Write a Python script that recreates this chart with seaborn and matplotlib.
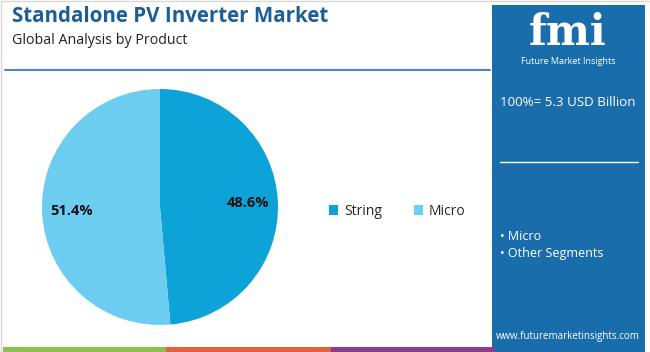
import matplotlib
matplotlib.use("Agg")
import matplotlib.pyplot as plt
import seaborn as sns
from matplotlib.patches import Rectangle

# data
products = ["String", "Micro"]
shares = [48.6, 51.4]
colors = ["#0ea3d8", "#6dcdf0"]
title = "Standalone PV Inverter Market"
subtitle = "Global Analysis by Product"
total_text = "100%= 5.3 USD Billion"
segments = ["Micro", "Other Segments"]

sns.set_theme(style="white")
plt.rcParams["font.family"] = ["Open Sans", "DejaVu Sans"]

W, H = 650, 352
fig = plt.figure(figsize=(6.5, 3.52), dpi=100)
fig.patch.set_facecolor("white")


def px(x, y):
    return x / W, 1 - y / H


# background decorations
bg = fig.add_axes([0, 0, 1, 1])
bg.set_xlim(0, W)
bg.set_ylim(H, 0)
bg.axis("off")
bg.add_patch(Rectangle((0.5, 0.5), W - 1, H - 1, fill=False, ec="#d8d8d8", lw=1))
bg.plot([5, 490], [70, 70], color="#4f86bd", lw=1.5)
bg.add_patch(Rectangle((492, 5), 153, 347, color="#1a6dab", lw=0))
bg.add_patch(Rectangle((3, 347), 163, 5, color="#8cc04b", lw=0))
bg.add_patch(Rectangle((166, 347), 165, 5, color="#e0623c", lw=0))
bg.add_patch(Rectangle((331, 347), 164, 5, color="#8e3d8e", lw=0))
bg.plot([500, 638], [162, 162], color="white", lw=1)

bg.text(12, 17, title, fontsize=14.8, fontweight="bold", color="#1b5f97", va="center")
bg.text(12, 41, subtitle, fontsize=10.3, color="#222222", va="center")

bg.text(568, 33, "fmi", fontsize=30, fontweight="bold", color="white",
        family=["DejaVu Serif"], ha="center", va="center")
bg.text(568, 61, "Future Market Insights", fontsize=6.5, color="white", ha="center", va="center")
bg.text(568, 102, total_text, fontsize=9.6, color="white", ha="center", va="center")
for i, seg in enumerate(segments):
    bg.text(500, 237 + 17 * i, "\u2022 " + seg, fontsize=9, color="white", va="center")
bg.text(568, 337, "www.futuremarketinsights.com", fontsize=7, color="white",
        ha="center", va="center")

# pie
cx, cy, r = 160, 207, 118
ax = fig.add_axes([(cx - r) / W, 1 - (cy + r) / H, 2 * r / W, 2 * r / H])
wedges, _, autotexts = ax.pie(shares, colors=colors, startangle=90, counterclock=False,
                              autopct="%.1f%%", pctdistance=0.75,
                              wedgeprops=dict(linewidth=0))
for t in autotexts:
    t.set_fontsize(10.5)
    t.set_fontweight("bold")
    t.set_color("#111111")
ax.set_aspect("auto")
ax.set_xlim(-1, 1)
ax.set_ylim(-1, 1)
ax.axis("off")

leg = fig.legend(wedges, products, loc="center left", bbox_to_anchor=px(316, 211),
                 ncol=2, frameon=False, fontsize=10, handlelength=0.7, handleheight=0.7,
                 columnspacing=2.3, handletextpad=0.4)

fig.savefig("out.png", dpi=100)
